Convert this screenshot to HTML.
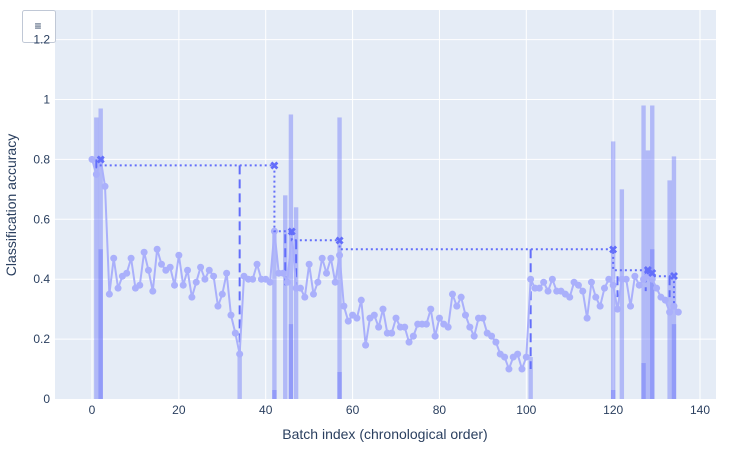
<!DOCTYPE html>
<html><head><meta charset="utf-8">
<style>
body{margin:0;background:#fff;font-family:"Liberation Sans",sans-serif;}
svg text{font-family:"Liberation Sans",sans-serif;fill:#2a3f5f;}
</style></head>
<body>
<svg id="chart" width="736" height="450" xmlns="http://www.w3.org/2000/svg">
<rect x="55" y="10" width="661" height="389" fill="#e5ecf6"/>
<g id="grid"></g>
<g id="bars"></g>
<g id="vlines"></g>
<g id="series"></g>
<g id="steps"></g>
<g>
<rect x="22.5" y="10.5" width="33" height="32" fill="#fff" stroke="#c0c8d6" rx="2"/>
<text x="38" y="30" font-size="12" text-anchor="middle">≡</text>
</g>
<g id="axes"></g>
<text x="385" y="439" font-size="14" text-anchor="middle">Batch index (chronological order)</text>
<text transform="translate(16,205) rotate(-90)" font-size="14" text-anchor="middle">Classification accuracy</text>
</svg>
<script>
const accuracy=[0.80,0.75,0.80,0.71,0.35,0.47,0.37,0.41,0.42,0.47,0.37,0.38,0.49,0.43,0.36,0.50,0.45,0.43,0.44,0.38,0.48,0.38,0.43,0.34,0.39,0.44,0.40,0.43,0.41,0.31,0.35,0.42,0.28,0.22,0.15,0.41,0.40,0.40,0.45,0.40,0.40,0.39,0.56,0.42,0.42,0.39,0.56,0.37,0.37,0.34,0.45,0.35,0.39,0.47,0.42,0.47,0.39,0.48,0.31,0.26,0.28,0.27,0.33,0.18,0.27,0.28,0.24,0.30,0.22,0.22,0.27,0.24,0.24,0.19,0.21,0.25,0.25,0.25,0.30,0.21,0.27,0.25,0.24,0.35,0.31,0.34,0.28,0.24,0.21,0.27,0.27,0.22,0.21,0.19,0.15,0.14,0.10,0.14,0.15,0.10,0.14,0.40,0.37,0.37,0.39,0.36,0.40,0.36,0.36,0.35,0.34,0.39,0.38,0.36,0.27,0.39,0.34,0.31,0.37,0.40,0.38,0.30,0.40,0.40,0.31,0.41,0.38,0.40,0.41,0.40,0.37,0.34,0.33,0.29,0.31,0.29];
const barX=[1,2,34,42,44.5,45.8,47,57,101,120,122,127,128,129,133,134];
const barH=[0.94,0.97,0.15,0.57,0.68,0.95,0.64,0.94,0.14,0.86,0.70,0.98,0.83,0.98,0.73,0.81];
const barInner=[0,0.50,0,0.03,0,0.25,0,0.09,0,0.03,0,0.12,0,0.50,0,0.25];
const stepX=[2,42,46,57,120,128,129,134];
const stepY=[0.80,0.78,0.56,0.53,0.50,0.43,0.42,0.41];
const dashX=[1,34,44.5,47,101,121,127.5,133];
const dashTop=[0.80,0.78,0.55,0.53,0.50,0.41,0.42,0.41];
const dashBot=[0.75,0.13,0.38,0.37,0.10,0.34,0.36,0.34];
const xTicks=[0,20,40,60,80,100,120,140];
const yTicks=[0,0.2,0.4,0.6,0.8,1,1.2];
const X=v=>92+v*4.343, Y=v=>399-v*299.5;
const NS="http://www.w3.org/2000/svg";
function mk(p,t,a){const e=document.createElementNS(NS,t);for(const k in a)e.setAttribute(k,a[k]);document.getElementById(p).appendChild(e);return e;}
yTicks.forEach(t=>{
 if(t>0){const g=mk('grid','line',{x1:55,x2:716,y1:Y(t),y2:Y(t),stroke:'#fff','stroke-width':1});
 
 }
 const l=mk('axes','text',{x:50,y:Y(t)+4,'font-size':12,'text-anchor':'end'});l.textContent=String(t);
 
 
});
xTicks.forEach(t=>{
 const g=mk('grid','line',{x1:X(t),x2:X(t),y1:10,y2:399,stroke:'#fff','stroke-width':1});
 
 
 const l=mk('axes','text',{x:X(t),y:414,'font-size':12,'text-anchor':'middle'});l.textContent=String(t);
 
 
});
barX.forEach((b,i)=>{
 const r=mk('bars','rect',{x:X(b)-2.2,y:Y(barH[i]),width:4.4,height:Y(0)-Y(barH[i]),fill:'#636efa','fill-opacity':0.4});
 
 
 if(barInner[i]>0){const r2=mk('bars','rect',{x:X(b)-2.2,y:Y(barInner[i]),width:4.4,height:Y(0)-Y(barInner[i]),fill:'#636efa','fill-opacity':0.4});
 
 }
});
dashX.forEach((d,i)=>{
 const l=mk('vlines','line',{x1:X(d),x2:X(d),y1:Y(dashTop[i]),y2:Y(dashBot[i]),stroke:'#636efa','stroke-width':2,'stroke-dasharray':'9,5'});
 
 
});
const pts=accuracy.map((v,i)=>X(i)+','+Y(v)).join(' ');
const pl=mk('series','polyline',{points:pts,fill:'none',stroke:'#aab0fb','stroke-width':2});


accuracy.forEach((v,i)=>{const c=mk('series','circle',{cx:X(i),cy:Y(v),r:3.5,fill:'#aab0fb'});
 
 });
let sp=[X(stepX[0])+','+Y(stepY[0])];
for(let i=1;i<stepX.length;i++){ sp.push(X(stepX[i-1])+','+Y(stepY[i])); sp.push(X(stepX[i])+','+Y(stepY[i])); }
sp.push(X(stepX[stepX.length-1])+','+Y(accuracy[stepX[stepX.length-1]]));
const st=mk('steps','polyline',{points:sp.join(' '),fill:'none',stroke:'#636efa','stroke-width':2,'stroke-dasharray':'2,3'});


stepX.forEach((s,i)=>{const t=mk('steps','text',{x:X(s),y:Y(stepY[i])+4,'font-size':11,'text-anchor':'middle','font-weight':'bold'});t.textContent='✖';t.style.fill='#636efa';
 
 });
</script>
</body></html>
